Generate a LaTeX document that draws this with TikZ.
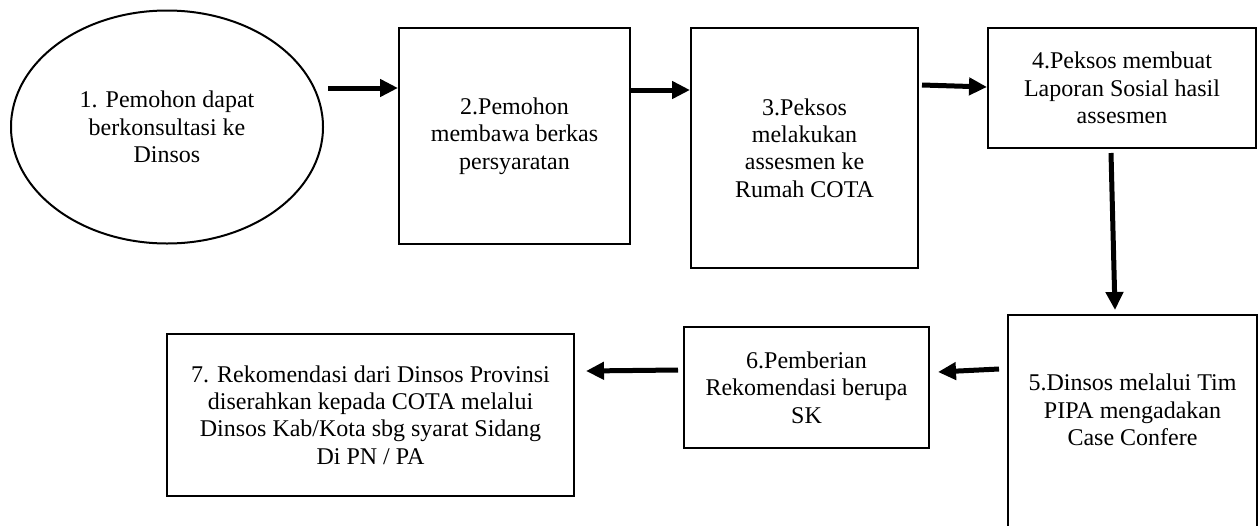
\documentclass[tikz,border=0pt]{standalone}
\usepackage{fontspec}
\setmainfont{Liberation Serif}
\usetikzlibrary{arrows.meta,shapes.geometric,calc}
\begin{document}
\begin{tikzpicture}[x=0.75pt,y=-0.75pt,
  shapeline/.style={draw, line width=1.5pt, inner sep=0pt},
  boxnode/.style={shapeline, rectangle},
  txt/.style={align=center, font=\fontsize{18pt}{20.6pt}\selectfont},
  arr/.style={line width=3.75pt, -{Triangle[length=13.5pt,width=12.75pt]}}]
\useasboundingbox (0,0) rectangle (1259,525);
\clip (0,0) rectangle (1259,525);

\node[shapeline, ellipse, txt, minimum width=234pt, minimum height=174.75pt] (e1) at (167,127)
  {1. Pemohon dapat\\berkonsultasi ke\\Dinsos};
\node[boxnode, txt, minimum width=173.25pt, minimum height=162pt] (b2) at (514.5,136)
  {2.Pemohon\\membawa berkas\\persyaratan};
\node[boxnode, txt, minimum width=170.25pt, minimum height=180pt] (b3) at (804.5,148)
  {3.Peksos\\melakukan\\assesmen ke\\Rumah COTA};
\node[boxnode, txt, minimum width=201pt, minimum height=90pt] (b4) at (1122,88)
  {4.Peksos membuat\\Laporan Sosial hasil\\assesmen};
\node[boxnode, minimum width=186.75pt, minimum height=214.5pt, anchor=north] (b5) at (1132.5,314) {};
\node[txt] (t5) at ($(b5.north)+(0,96)$) {5.Dinsos melalui Tim\\PIPA mengadakan\\Case Confere};
\node[boxnode, txt, minimum width=183.75pt, minimum height=90.75pt] (b6) at (806.5,387.5)
  {6.Pemberian\\Rekomendasi berupa\\SK};
\node[boxnode, txt, minimum width=305.25pt, minimum height=121.5pt] (b7) at (370.5,415)
  {7. Rekomendasi dari Dinsos Provinsi\\diserahkan kepada COTA melalui\\Dinsos Kab/Kota sbg syarat Sidang\\Di PN / PA};

\coordinate (s1) at (328,88);
\draw[arr] (s1) -- (s1 -| b2.west);
\coordinate (s2) at (630,90);
\draw[arr] (b2.east |- s2) -- (b3.west |- s2);
\coordinate (s3) at (922,85);
\draw[arr] (s3) -- ($(b4.west)+(0,-1)$);
\coordinate (s4) at (1111,153);
\draw[arr] (s4) -- ($(b5.north)+(-17.5,-4)$);
\coordinate (s5) at (999,369);
\draw[arr] (s5) -- ($(b6.east)+(8,-15.5)$);
\coordinate (s6) at (678,370);
\draw[arr] (s6) -- ($(b7.east)+(11,-44)$);
\end{tikzpicture}
\end{document}
